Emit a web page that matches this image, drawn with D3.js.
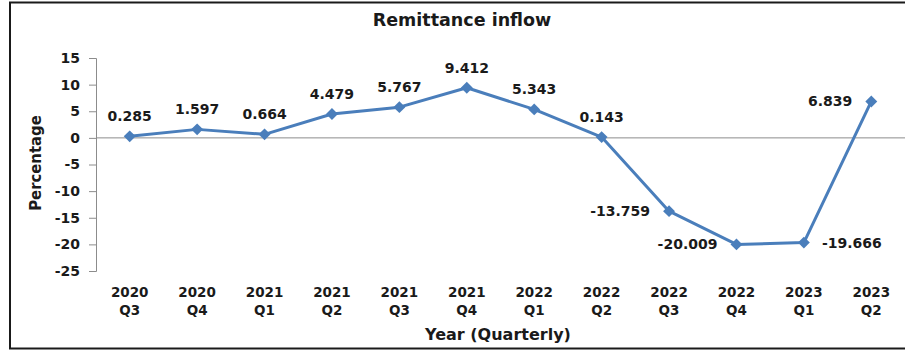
<!DOCTYPE html>
<html>
<head>
<meta charset="utf-8">
<script src="https://cdn.jsdelivr.net/npm/d3@7"></script>
<style>
  body { margin: 0; background: #fff; }
  svg { display: block; }
</style>
</head>
<body>
<div id="chart"></div>
<script>
// data
const years = ["2020", "2020", "2021", "2021", "2021", "2021", "2022", "2022", "2022", "2022", "2023", "2023"];
const quarters = ["Q3", "Q4", "Q1", "Q2", "Q3", "Q4", "Q1", "Q2", "Q3", "Q4", "Q1", "Q2"];
const values = [0.285, 1.597, 0.664, 4.479, 5.767, 9.412, 5.343, 0.143, -13.759, -20.009, -19.666, 6.839];
// where each data label sits relative to its point
const labelPos = ["top", "top", "top", "top", "top", "top", "top", "top", "left", "left", "right", "left"];
const yTicks = [15, 10, 5, 0, -5, -10, -15, -20, -25];

const W = 905, H = 352;
const margin = {top: 58, right: 0, bottom: 81, left: 96};
const blue = "#4a7ebb";
const font = "'DejaVu Sans', Verdana, sans-serif";
const fmt = v => String(v); // plain hyphen for negatives, like the original

const data = values.map((v, i) => ({key: years[i] + " " + quarters[i], year: years[i], q: quarters[i], v: v, pos: labelPos[i]}));

const svg = d3.select("#chart").append("svg")
  .attr("width", W)
  .attr("height", H);

svg.append("rect")
  .attr("width", W).attr("height", H)
  .attr("fill", "#fff");

// outer frame
svg.append("rect")
  .attr("x", 10).attr("y", 2.5)
  .attr("width", W + 10).attr("height", 346)
  .attr("fill", "none")
  .attr("stroke", "#1a1a1a")
  .attr("stroke-width", 2);

const x = d3.scaleBand()
  .domain(data.map(d => d.key))
  .range([margin.left, W - margin.right]);

const y = d3.scaleLinear()
  .domain([-25, 15])
  .range([H - margin.bottom, margin.top]);

// y axis
const yAxis = svg.append("g")
  .attr("transform", `translate(${margin.left},0)`)
  .call(d3.axisLeft(y).tickValues(yTicks).tickSize(7).tickPadding(9).tickFormat(fmt));
yAxis.select(".domain").attr("stroke", "#8c8c8c");
yAxis.selectAll(".tick line").attr("stroke", "#8c8c8c");
yAxis.selectAll(".tick text")
  .attr("fill", "#1a1a1a")
  .style("font-family", font)
  .style("font-weight", "bold")
  .style("font-size", "14px");

// zero line
svg.append("line")
  .attr("x1", margin.left).attr("x2", W)
  .attr("y1", y(0)).attr("y2", y(0))
  .attr("stroke", "#8c8c8c")
  .attr("stroke-width", 1);

// category labels
const cat = svg.append("g")
  .attr("font-family", font)
  .attr("font-weight", "bold")
  .attr("font-size", "13.5px")
  .attr("fill", "#1a1a1a")
  .attr("text-anchor", "middle")
  .selectAll("text")
  .data(data)
  .join("text")
    .attr("x", d => x(d.key) + x.bandwidth() / 2)
    .attr("y", 297);
cat.append("tspan").text(d => d.year);
cat.append("tspan")
  .attr("x", d => x(d.key) + x.bandwidth() / 2)
  .attr("dy", 18)
  .text(d => d.q);

const cx = d => x(d.key) + x.bandwidth() / 2;

const line = d3.line()
  .x(cx)
  .y(d => y(d.v));

svg.append("path")
  .datum(data)
  .attr("fill", "none")
  .attr("stroke", blue)
  .attr("stroke-width", 3)
  .attr("stroke-linejoin", "round")
  .attr("d", line);

svg.append("g")
  .selectAll("path")
  .data(data)
  .join("path")
    .attr("d", d3.symbol(d3.symbolDiamond2, 90))
    .attr("transform", d => `translate(${cx(d)},${y(d.v)})`)
    .attr("fill", blue);

// data labels
svg.append("g")
  .attr("font-family", font)
  .attr("font-weight", "bold")
  .attr("font-size", "14px")
  .attr("fill", "#1a1a1a")
  .selectAll("text")
  .data(data)
  .join("text")
    .attr("x", d => d.pos == "top" ? cx(d) : d.pos == "left" ? cx(d) - 19 : cx(d) + 18)
    .attr("y", d => d.pos == "top" ? y(d.v) - 20 : y(d.v))
    .attr("dy", "0.36em")
    .attr("text-anchor", d => d.pos == "top" ? "middle" : d.pos == "left" ? "end" : "start")
    .text(d => d3.format(".3f")(d.v).replace("\u2212", "-"));

// titles
svg.append("text")
  .attr("x", 462).attr("y", 20)
  .attr("dy", "0.36em")
  .attr("text-anchor", "middle")
  .style("font-family", font)
  .style("font-weight", "bold")
  .style("font-size", "17.5px")
  .attr("fill", "#1a1a1a")
  .text("Remittance inflow");

svg.append("text")
  .attr("x", 498).attr("y", 334)
  .attr("dy", "0.36em")
  .attr("text-anchor", "middle")
  .style("font-family", font)
  .style("font-weight", "bold")
  .style("font-size", "16px")
  .attr("fill", "#1a1a1a")
  .text("Year (Quarterly)");

svg.append("text")
  .attr("transform", `translate(35,${163}) rotate(-90)`)
  .attr("dy", "0.36em")
  .attr("text-anchor", "middle")
  .style("font-family", "'Liberation Sans Narrow', 'DejaVu Sans Condensed', sans-serif")
  .style("font-weight", "bold")
  .style("font-size", "16.5px")
  .attr("fill", "#1a1a1a")
  .text("Percentage");
</script>
</body>
</html>
